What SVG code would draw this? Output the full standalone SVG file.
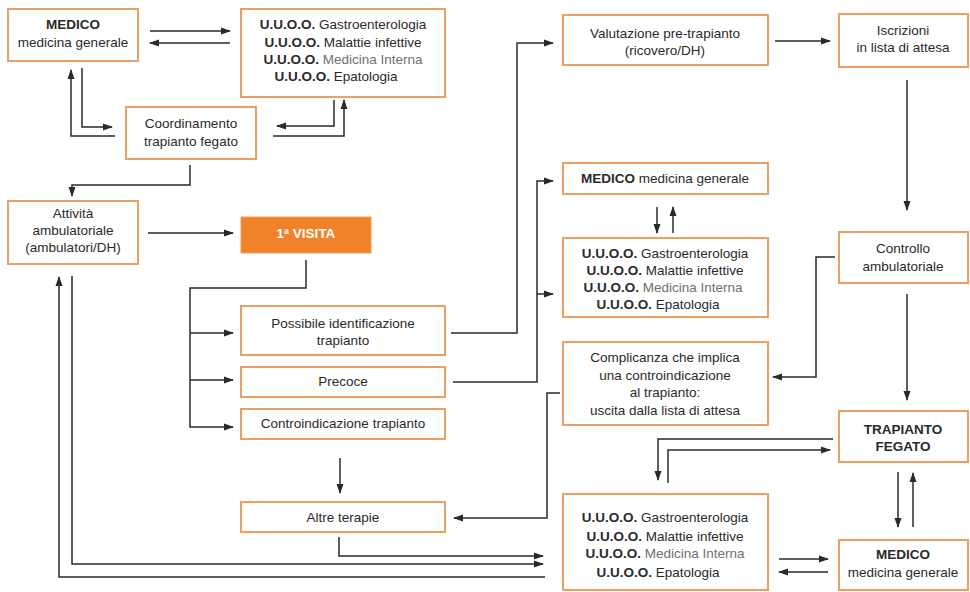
<svg xmlns="http://www.w3.org/2000/svg" width="970" height="592" viewBox="0 0 970 592">
<defs>
<marker id="ah" markerWidth="10" markerHeight="8" refX="9" refY="4" orient="auto" markerUnits="userSpaceOnUse">
<path d="M0,0.5 L10,4 L0,7.5 Z" fill="#2a2a2a"/>
</marker>
<style>
.box{fill:#ffffff;stroke:#E9A062;stroke-width:2}
.fill{fill:#F0822A;stroke:#F0A060;stroke-width:1}
text{font-family:"Liberation Sans",Arial,sans-serif;font-size:13.5px;fill:#2a2a2a;text-anchor:middle}
.b{font-weight:bold}
.g{fill:#707070}
.w{fill:#ffffff;font-weight:bold}
.c path{fill:none;stroke:#2a2a2a;stroke-width:1.5}
.c .a{marker-end:url(#ah)}
</style>
</defs>
<rect width="970" height="592" fill="#ffffff"/>

<g id="medico1"><rect class="box" x="8" y="9" width="130" height="52"/>
<text x="73" y="29" class="b">MEDICO</text><text x="73" y="47">medicina generale</text></g>

<g id="uuoo1"><rect class="box" x="241" y="9" width="204" height="88"/>
<text x="343" y="29"><tspan class="b">U.U.O.O.</tspan> Gastroenterologia</text>
<text x="343" y="47"><tspan class="b">U.U.O.O.</tspan> Malattie infettive</text>
<text x="343" y="64"><tspan class="b">U.U.O.O.</tspan> <tspan class="g">Medicina Interna</tspan></text>
<text x="336" y="81"><tspan class="b">U.U.O.O.</tspan> Epatologia</text></g>

<g id="coord"><rect class="box" x="126" y="107" width="130" height="52"/>
<text x="191" y="128">Coordinamento</text><text x="191" y="146">trapianto fegato</text></g>

<g id="attivita"><rect class="box" x="8" y="201" width="130" height="63"/>
<text x="73" y="218">Attività</text><text x="73" y="235">ambulatoriale</text><text x="73" y="252">(ambulatori/DH)</text></g>

<g id="visita"><rect class="fill" x="241" y="217" width="130" height="36"/>
<text x="306" y="238" class="w">1ª VISITA</text></g>

<g id="possibile"><rect class="box" x="241" y="306" width="204" height="49"/>
<text x="343" y="328">Possibile identificazione</text><text x="343" y="345">trapianto</text></g>

<g id="precoce"><rect class="box" x="241" y="367" width="204" height="30"/>
<text x="343" y="386">Precoce</text></g>

<g id="controind"><rect class="box" x="241" y="409" width="204" height="30"/>
<text x="343" y="428">Controindicazione trapianto</text></g>

<g id="altre"><rect class="box" x="241" y="502" width="204" height="30"/>
<text x="343" y="522">Altre terapie</text></g>

<g id="valutazione"><rect class="box" x="563" y="15" width="205" height="50"/>
<text x="665" y="38">Valutazione pre-trapianto</text><text x="665" y="55">(ricovero/DH)</text></g>

<g id="iscrizioni"><rect class="box" x="839" y="14" width="129" height="53"/>
<text x="903" y="35">Iscrizioni</text><text x="903" y="52">in lista di attesa</text></g>

<g id="medico2"><rect class="box" x="563" y="163" width="205" height="31"/>
<text x="665" y="183"><tspan class="b">MEDICO</tspan> medicina generale</text></g>

<g id="uuoo2"><rect class="box" x="563" y="238" width="205" height="79"/>
<text x="665" y="258"><tspan class="b">U.U.O.O.</tspan> Gastroenterologia</text>
<text x="665" y="275"><tspan class="b">U.U.O.O.</tspan> Malattie infettive</text>
<text x="663" y="292"><tspan class="b">U.U.O.O.</tspan> <tspan class="g">Medicina Interna</tspan></text>
<text x="658" y="309"><tspan class="b">U.U.O.O.</tspan> Epatologia</text></g>

<g id="complicanza"><rect class="box" x="563" y="342" width="205" height="83"/>
<text x="665" y="362">Complicanza che implica</text>
<text x="665" y="380">una controindicazione</text>
<text x="665" y="397">al trapianto:</text>
<text x="665" y="415">uscita dalla lista di attesa</text></g>

<g id="controllo"><rect class="box" x="839" y="232" width="129" height="51"/>
<text x="903" y="253">Controllo</text><text x="903" y="271">ambulatoriale</text></g>

<g id="trapianto"><rect class="box" x="839" y="411" width="129" height="51"/>
<text x="903" y="434" class="b">TRAPIANTO</text><text x="903" y="451" class="b">FEGATO</text></g>

<g id="uuoo3"><rect class="box" x="563" y="494" width="205" height="96"/>
<text x="665" y="522"><tspan class="b">U.U.O.O.</tspan> Gastroenterologia</text>
<text x="665" y="541"><tspan class="b">U.U.O.O.</tspan> Malattie infettive</text>
<text x="665" y="558"><tspan class="b">U.U.O.O.</tspan> <tspan class="g">Medicina Interna</tspan></text>
<text x="658" y="577"><tspan class="b">U.U.O.O.</tspan> Epatologia</text></g>

<g id="medico3"><rect class="box" x="839" y="540" width="129" height="50"/>
<text x="903" y="559" class="b">MEDICO</text><text x="903" y="577">medicina generale</text></g>

<g id="connectors" class="c">
<path class="a" d="M150,31 H230"/>
<path class="a" d="M230,43 H150"/>
<path class="a" d="M82,68 V127 H112"/>
<path class="a" d="M115,136 H71 V70"/>
<path class="a" d="M334,100 V126 H277"/>
<path class="a" d="M273,136 H344 V100"/>
<path class="a" d="M190,165 V185 H72 V196"/>
<path class="a" d="M148,233 H233"/>
<path class="a" d="M306,260 V288 H190 V427 H233"/>
<path class="a" d="M190,333 H233"/>
<path class="a" d="M190,380 H233"/>
<path class="a" d="M451,333 H517 V43 H553"/>
<path class="a" d="M453,382 H537 V181 H553"/>
<path class="a" d="M537,294 H553"/>
<path class="a" d="M657,207 V233"/>
<path class="a" d="M673,233 V207"/>
<path class="a" d="M775,41 H830"/>
<path class="a" d="M907,80 V210"/>
<path class="a" d="M835,257 H816 V377 H773"/>
<path class="a" d="M907,294 V400"/>
<path class="a" d="M560,393 H547 V518 H454"/>
<path class="a" d="M340,458 V493"/>
<path class="a" d="M339,537 V556 H543"/>
<path class="a" d="M72,276 V564 H543"/>
<path class="a" d="M545,577 H59 V277"/>
<path class="a" d="M833,439 H658 V480"/>
<path class="a" d="M668,483 V450 H830"/>
<path class="a" d="M898,472 V527"/>
<path class="a" d="M913,527 V473"/>
<path class="a" d="M779,559 H828"/>
<path class="a" d="M828,572 H779"/>
</g>
</svg>
